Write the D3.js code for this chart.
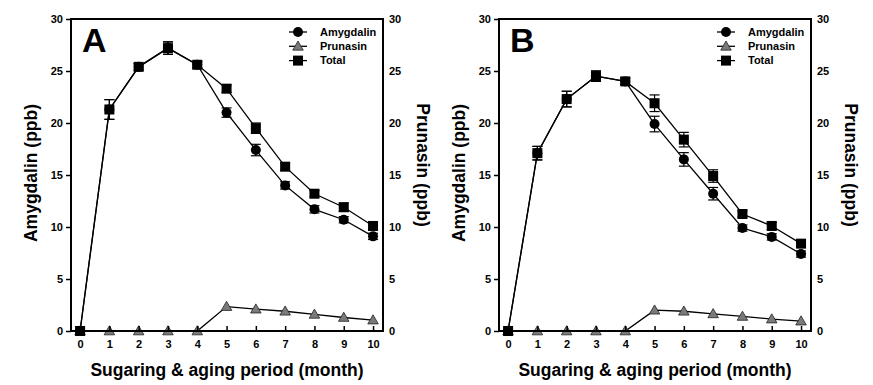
<!DOCTYPE html>
<html>
<head>
<meta charset="utf-8">
<script src="https://cdn.jsdelivr.net/npm/d3@7"></script>
<style>
  body { margin: 0; background: #fff; }
  text { font-family: "Liberation Sans", Arial, sans-serif; font-weight: bold; }
</style>
</head>
<body>
<div id="chart"></div>
<script>
// data
const months = [0, 1, 2, 3, 4, 5, 6, 7, 8, 9, 10];
const yTicks = [0, 5, 10, 15, 20, 25, 30];

// panel A
const totalA = [0, 21.3, 25.4, 27.2, 25.6, 23.3, 19.5, 15.8, 13.2, 11.9, 10.1];
const totalErrA = [0, 0.95, 0.3, 0.6, 0.3, 0.35, 0.5, 0.35, 0.3, 0.4, 0.35];
const amygA = [0, 21.3, 25.4, 27.2, 25.6, 21.0, 17.4, 14.0, 11.7, 10.7, 9.1];
const amygErrA = [0, 0.95, 0.3, 0.6, 0.3, 0.45, 0.55, 0.35, 0.35, 0.3, 0.3];
const prunA = [0, 0, 0, 0, 0, 2.35, 2.1, 1.9, 1.6, 1.3, 1.05];

// panel B
const totalB = [0, 17.1, 22.3, 24.5, 24.0, 21.9, 18.4, 14.9, 11.25, 10.1, 8.4];
const totalErrB = [0, 0.65, 0.75, 0.5, 0.3, 0.8, 0.7, 0.6, 0.3, 0.35, 0.3];
const amygB = [0, 17.1, 22.3, 24.5, 24.0, 19.9, 16.5, 13.2, 9.9, 9.05, 7.4];
const amygErrB = [0, 0.65, 0.75, 0.5, 0.3, 0.75, 0.65, 0.6, 0.3, 0.3, 0.3];
const prunB = [0, 0, 0, 0, 0, 2.0, 1.9, 1.65, 1.4, 1.15, 0.95];

const legendNames = ["Amygdalin", "Prunasin", "Total"];

const W = 873, H = 385;
const plotW = 312, plotH = 312, marginTop = 19;

const svg = d3.select("#chart").append("svg")
  .attr("width", W).attr("height", H);

const x = d3.scaleLinear().domain([-0.31, 10.34]).range([0, plotW]);
const y = d3.scaleLinear().domain([0, 30]).range([plotH, 0]);

const line = d3.line().x((d, i) => x(months[i])).y(d => y(d));

function marker(g, type, cx, cy) {
  if (type === "circle") {
    g.append("circle").attr("cx", cx).attr("cy", cy).attr("r", 5)
      .attr("fill", "#000");
  } else if (type === "square") {
    g.append("rect").attr("x", cx - 5).attr("y", cy - 5)
      .attr("width", 10).attr("height", 10).attr("fill", "#000");
  } else {
    const s = d3.symbol().type(d3.symbolTriangle).size(48);
    g.append("path").attr("d", s)
      .attr("transform", `translate(${cx},${cy + 0.8})`)
      .attr("fill", "#7a7a7a").attr("stroke", "#222").attr("stroke-width", 0.8);
  }
}

function drawPanel(left, label, amyg, amygErr, prun, total, totalErr) {
  const g = svg.append("g").attr("transform", `translate(${left}, ${marginTop})`);

  // lines
  [amyg, prun, total].forEach(s => {
    g.append("path").datum(s).attr("d", line)
      .attr("fill", "none").attr("stroke", "#000").attr("stroke-width", 1.3);
  });

  // error bars
  const bars = (vals, errs) => {
    vals.forEach((v, i) => {
      if (!errs[i]) return;
      const cx = x(months[i]), y1 = y(v + errs[i]), y2 = y(v - errs[i]);
      g.append("line").attr("x1", cx).attr("x2", cx).attr("y1", y1).attr("y2", y2)
        .attr("stroke", "#000").attr("stroke-width", 1.2);
      [y1, y2].forEach(yy => g.append("line")
        .attr("x1", cx - 5).attr("x2", cx + 5).attr("y1", yy).attr("y2", yy)
        .attr("stroke", "#000").attr("stroke-width", 1.2));
    });
  };
  bars(amyg, amygErr);
  bars(total, totalErr);

  // markers
  amyg.forEach((v, i) => marker(g, "circle", x(months[i]), y(v)));
  prun.forEach((v, i) => marker(g, "triangle", x(months[i]), y(v)));
  total.forEach((v, i) => marker(g, "square", x(months[i]), y(v)));

  // frame
  g.append("rect").attr("width", plotW).attr("height", plotH)
    .attr("fill", "none").attr("stroke", "#000").attr("stroke-width", 2);

  // left axis
  const yl = g.append("g").call(d3.axisLeft(y).tickValues(yTicks).tickSize(5).tickPadding(3));
  yl.select(".domain").remove();
  yl.selectAll("line").attr("stroke-width", 1.5);
  yl.selectAll("text").attr("font-size", 11).attr("font-weight", "bold");

  // right axis
  const yr = g.append("g").attr("transform", `translate(${plotW},0)`)
    .call(d3.axisRight(y).tickValues(yTicks).tickSize(0).tickPadding(6));
  yr.select(".domain").remove();
  yr.selectAll("text").attr("font-size", 11).attr("font-weight", "bold");

  // bottom axis (ticks inward)
  const xb = g.append("g").attr("transform", `translate(0,${plotH})`)
    .call(d3.axisBottom(x).tickValues(months).tickSize(-5).tickPadding(9));
  xb.select(".domain").remove();
  xb.selectAll("line").attr("stroke-width", 1.5);
  xb.selectAll("text").attr("font-size", 11).attr("font-weight", "bold");

  // axis titles
  g.append("text").attr("transform", `translate(${-34},${154}) rotate(-90)`)
    .attr("text-anchor", "middle").attr("font-size", 17.5).text("Amygdalin (ppb)");
  g.append("text").attr("transform", `translate(${plotW + 34},${146}) rotate(90)`)
    .attr("text-anchor", "middle").attr("font-size", 17.5).text("Prunasin (ppb)");
  g.append("text").attr("x", 156).attr("y", 357)
    .attr("text-anchor", "middle").attr("font-size", 17.5)
    .text("Sugaring & aging period (month)");

  // panel letter
  g.append("text").attr("x", 11).attr("y", 33).attr("font-size", 34).text(label);

  // legend
  const lg = g.append("g").attr("transform", `translate(${218},${13})`);
  ["circle", "triangle", "square"].forEach((t, i) => {
    const ly = i * 14.3;
    lg.append("line").attr("x1", 0).attr("x2", 18).attr("y1", ly).attr("y2", ly)
      .attr("stroke", "#000").attr("stroke-width", 1.3);
    marker(lg, t, 9, ly);
    lg.append("text").attr("x", 31).attr("y", ly).attr("dy", "0.35em")
      .attr("font-size", 11).text(legendNames[i]);
  });
}

drawPanel(71, "A", amygA, amygErrA, prunA, totalA, totalErrA);
drawPanel(499, "B", amygB, amygErrB, prunB, totalB, totalErrB);
</script>
</body>
</html>
